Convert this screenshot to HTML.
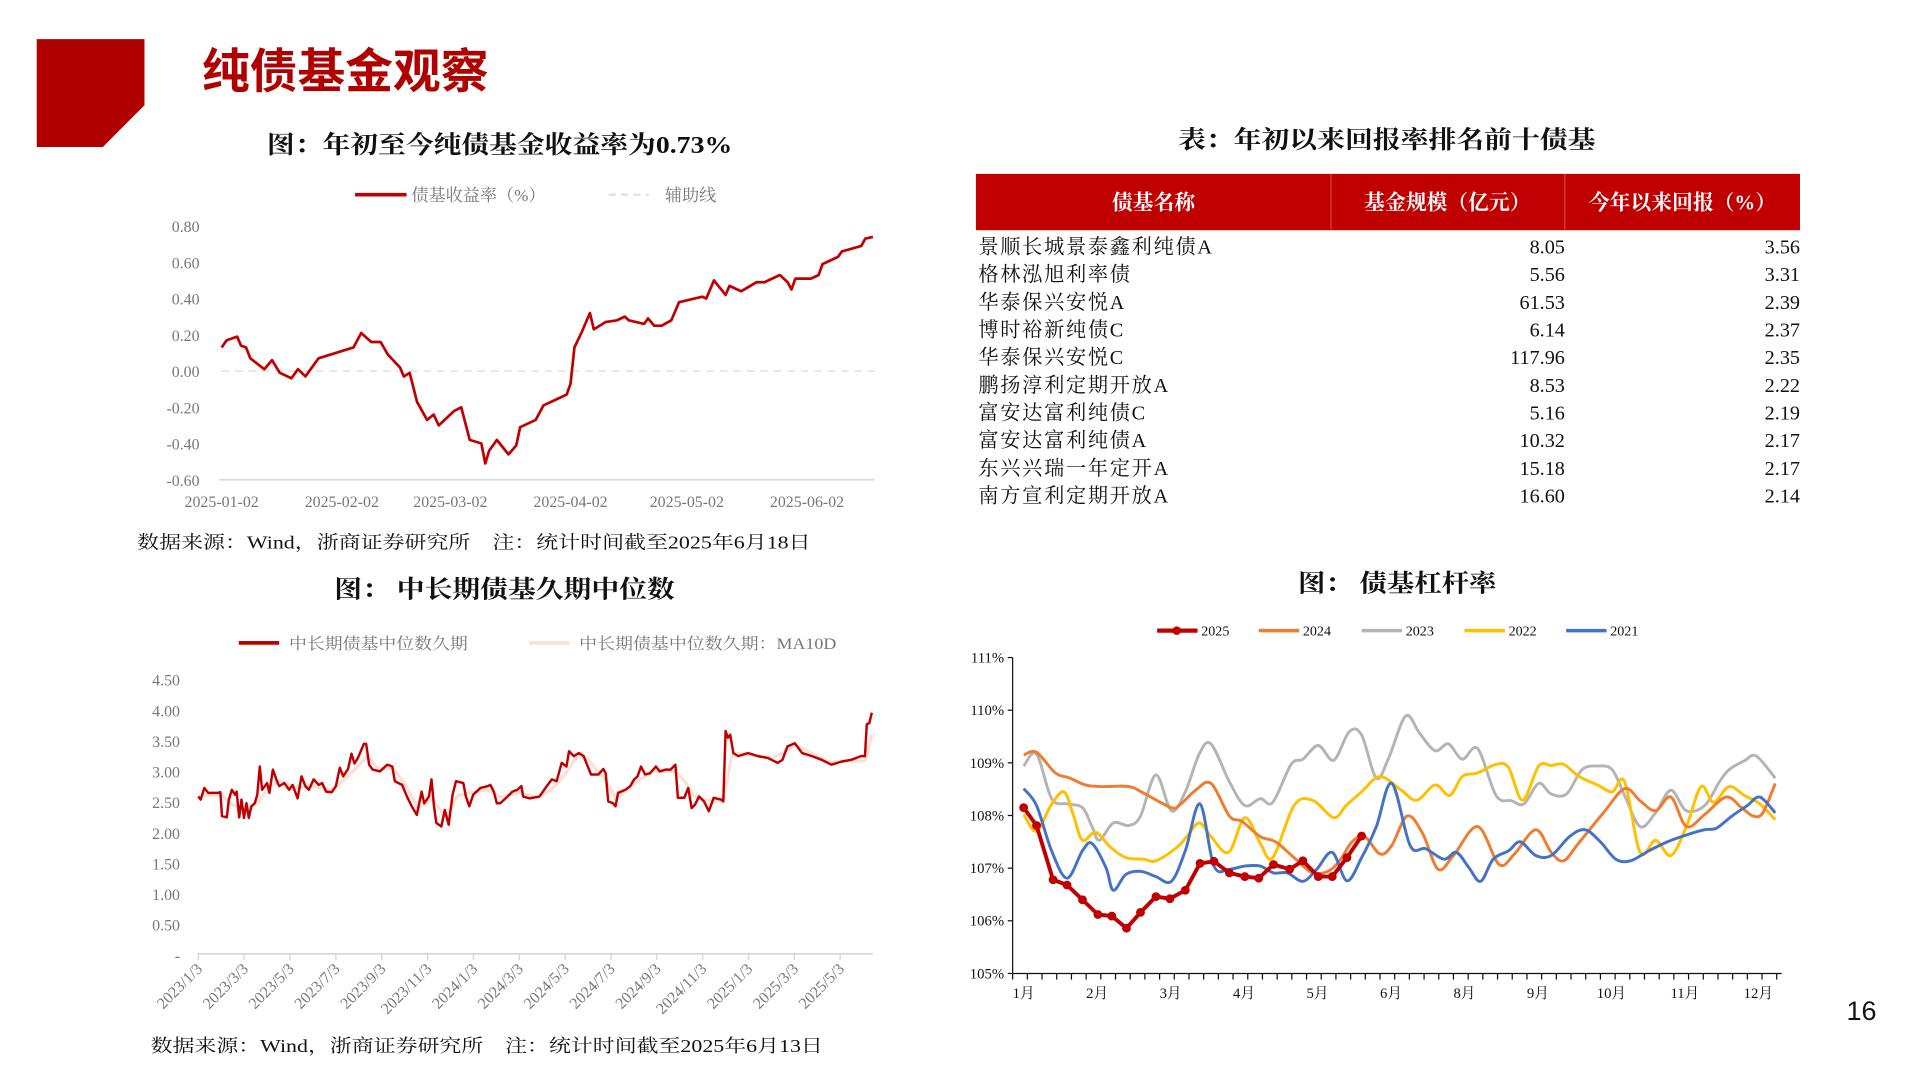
<!DOCTYPE html>
<html lang="zh">
<head>
<meta charset="utf-8">
<title>纯债基金观察</title>
<style>
html,body{margin:0;padding:0;background:#fff;}
svg{display:block;}
.serif{font-family:"Liberation Serif","Noto Serif CJK SC",serif;}
.sans{font-family:"Liberation Sans","Noto Sans CJK SC",sans-serif;}
</style>
</head>
<body>
<svg id="root" width="1920" height="1080" viewBox="0 0 1568 882" xmlns="http://www.w3.org/2000/svg">
  <rect x="0" y="0" width="1568" height="882" fill="#fff"/>
  <polygon points="30,32 118,32 118,86 84,120 30,120" fill="#b00000"/>
  <text x="165" y="72" font-size="39" font-weight="bold" fill="#b00000" class="sans">纯债基金观察</text>

  <text x="218" y="125" font-size="20" font-weight="bold" fill="#111" class="serif" textLength="380" lengthAdjust="spacingAndGlyphs">图：年初至今纯债基金收益率为0.73%</text>
  <g>
    <line x1="290" y1="159" x2="332" y2="159" stroke="#c00000" stroke-width="3"/>
    <text x="336" y="164" font-size="14" fill="#777" class="serif">债基收益率（%）</text>
    <line x1="497" y1="159" x2="530" y2="159" stroke="#e3e3e3" stroke-width="2" stroke-dasharray="6,4"/>
    <text x="543" y="164" font-size="14" fill="#777" class="serif">辅助线</text>
  </g>
  <g id="c1"></g>
  <text x="112" y="448" font-size="15" fill="#111" class="serif" textLength="550" lengthAdjust="spacingAndGlyphs">数据来源：Wind，浙商证券研究所　注：统计时间截至2025年6月18日</text>

  <text x="273" y="488" font-size="20" font-weight="bold" fill="#111" class="serif" textLength="278" lengthAdjust="spacingAndGlyphs">图：  中长期债基久期中位数</text>
  <g>
    <line x1="195" y1="525" x2="228" y2="525" stroke="#c00000" stroke-width="3"/>
    <text x="236" y="530" font-size="13" fill="#777" class="serif" textLength="146" lengthAdjust="spacingAndGlyphs">中长期债基中位数久期</text>
    <line x1="432" y1="525" x2="465" y2="525" stroke="#fbe0d3" stroke-width="3"/>
    <text x="473" y="530" font-size="13" fill="#777" class="serif" textLength="210" lengthAdjust="spacingAndGlyphs">中长期债基中位数久期：MA10D</text>
  </g>
  <g id="c2"></g>
  <text x="123" y="859" font-size="15" fill="#111" class="serif" textLength="549" lengthAdjust="spacingAndGlyphs">数据来源：Wind，浙商证券研究所　注：统计时间截至2025年6月13日</text>

  <text x="962" y="121" font-size="20" font-weight="bold" fill="#111" class="serif" textLength="341" lengthAdjust="spacingAndGlyphs">表：年初以来回报率排名前十债基</text>
  <g id="tbl"></g>

  <text x="1060" y="483" font-size="20" font-weight="bold" fill="#111" class="serif" textLength="162" lengthAdjust="spacingAndGlyphs">图：  债基杠杆率</text>
  <g id="c3"></g>

  <text x="1508" y="833" font-size="22" fill="#111" class="sans">16</text>
</svg>
<script>
// ---------- Chart 1 data ----------
const c1Days = [0,1.3,4,5,6.3,7.4,11,13,15,18,19.7,21.6,25,34,36,38.6,41,42.9,46,47,48.5,50.4,53,54.7,56,60,61.8,64,67,68,69,71,74,76,77,81,83,86,89,90,91,93,95,96,99,102,104,105,109,110,111.6,113.5,116,118,124,125,127,130,131,134,138,140,144,146,147,148,152,154,155,159,160,165,166,168];
const c1Values = [0.13,0.17,0.19,0.14,0.13,0.07,0.01,0.06,-0.01,-0.04,0.01,-0.03,0.07,0.13,0.21,0.16,0.16,0.09,0.02,-0.03,-0.01,-0.17,-0.27,-0.24,-0.30,-0.22,-0.20,-0.38,-0.40,-0.51,-0.44,-0.38,-0.46,-0.41,-0.31,-0.27,-0.19,-0.16,-0.13,-0.07,0.13,0.22,0.32,0.23,0.27,0.28,0.30,0.28,0.26,0.29,0.25,0.25,0.28,0.38,0.41,0.40,0.50,0.42,0.47,0.44,0.49,0.49,0.53,0.49,0.45,0.51,0.51,0.53,0.59,0.63,0.66,0.69,0.73,0.74];
const c1YTicks = [0.8,0.6,0.4,0.2,0,-0.2,-0.4,-0.6];
const c1YLabels = ['0.80','0.60','0.40','0.20','0.00','-0.20','-0.40','-0.60'];
const c1XTickDays = [0,31,59,90,120,151];
const c1XLabels = ['2025-01-02','2025-02-02','2025-03-02','2025-04-02','2025-05-02','2025-06-02'];

// ---------- Chart 2 data ----------
const c2Months = [0,0.1,0.26,0.43,0.86,0.96,1.03,1.24,1.33,1.46,1.6,1.67,1.78,1.88,1.99,2.1,2.2,2.31,2.46,2.57,2.68,2.78,3.0,3.1,3.25,3.43,3.53,3.75,3.96,4.11,4.33,4.5,4.67,4.82,5.03,5.25,5.4,5.57,5.82,6.0,6.17,6.32,6.53,6.68,6.81,6.96,7.22,7.32,7.45,7.6,7.92,8.24,8.46,8.57,8.89,9.1,9.31,9.53,9.74,9.85,10.06,10.17,10.28,10.38,10.6,10.75,10.92,11.09,11.24,11.56,11.67,11.82,11.99,12.31,12.63,12.74,12.89,13.02,13.17,13.49,13.7,13.92,14.09,14.17,14.45,14.88,15.2,15.42,15.63,15.85,16.06,16.17,16.38,16.6,16.81,17.02,17.13,17.45,17.67,17.77,17.88,18.09,18.2,18.31,18.63,18.84,19.01,19.16,19.31,19.49,19.7,19.96,20.13,20.39,20.6,20.81,20.92,21.2,21.37,21.52,21.67,21.84,22.06,22.27,22.48,22.8,22.9,23.0,23.1,23.2,23.34,23.55,23.98,24.41,24.84,25.27,25.48,25.7,26.02,26.34,26.77,27.19,27.62,28.05,28.48,28.91,29.08,29.16,29.27,29.38];
const c2Duration = [2.59,2.54,2.73,2.65,2.65,2.66,2.27,2.25,2.54,2.70,2.62,2.67,2.25,2.54,2.24,2.48,2.24,2.43,2.48,2.62,3.08,2.70,2.81,2.65,3.03,2.84,2.76,2.81,2.70,2.78,2.56,2.92,2.76,2.70,2.87,2.78,2.81,2.67,2.66,2.76,3.06,2.92,3.04,3.29,3.13,3.22,3.45,3.45,3.11,3.03,3.00,3.11,3.08,2.84,2.78,2.59,2.43,2.29,2.67,2.48,2.59,2.87,2.43,2.16,2.10,2.37,2.13,2.62,2.84,2.81,2.59,2.43,2.62,2.73,2.76,2.78,2.67,2.48,2.48,2.59,2.67,2.70,2.76,2.59,2.56,2.59,2.76,2.87,2.84,3.14,3.08,3.33,3.25,3.30,3.25,3.05,2.95,2.95,3.04,2.97,2.51,2.48,2.43,2.65,2.70,2.76,2.87,2.92,3.08,2.95,2.97,3.08,3.00,3.03,3.03,3.11,2.57,2.57,2.73,2.40,2.46,2.59,2.51,2.35,2.57,2.54,2.51,3.66,3.55,3.60,3.30,3.25,3.30,3.25,3.22,3.14,3.19,3.41,3.46,3.30,3.25,3.19,3.11,3.16,3.19,3.25,3.25,3.77,3.79,3.96];
const c2MaMonths = [0,1,1.5,2.2,2.6,3.0,3.5,4.2,5,5.8,6.3,7,7.4,7.8,8.5,9.0,9.6,10.2,10.8,11.3,11.8,12.6,13.2,14,14.8,15.4,16,16.5,17,17.4,17.8,18.2,19,19.8,20.8,21.2,21.6,22.5,22.9,23.3,24,25,25.5,26,26.5,27.5,28.5,29.1,29.38];
const c2MaValues = [2.60,2.62,2.45,2.40,2.50,2.70,2.85,2.75,2.75,2.70,2.85,3.10,3.25,3.05,3.05,2.80,2.40,2.55,2.25,2.60,2.65,2.70,2.58,2.65,2.58,2.70,2.95,3.25,3.20,3.00,2.85,2.55,2.80,3.00,3.00,2.85,2.60,2.50,2.55,3.30,3.28,3.22,3.30,3.43,3.35,3.15,3.17,3.18,3.60];
const c2YTicks = [4.5,4,3.5,3,2.5,2,1.5,1,0.5,0];
const c2YLabels = ['4.50','4.00','3.50','3.00','2.50','2.00','1.50','1.00','0.50','-'];
const c2XTickMonths = [0,2,4,6,8,10,12,14,16,18,20,22,24,26,28];
const c2XLabels = ['2023/1/3','2023/3/3','2023/5/3','2023/7/3','2023/9/3','2023/11/3','2024/1/3','2024/3/3','2024/5/3','2024/7/3','2024/9/3','2024/11/3','2025/1/3','2025/3/3','2025/5/3'];

// ---------- Chart 3 data ----------
const c3X2025 = [0,0.175,0.4,0.59,0.8,1.01,1.2,1.4,1.59,1.8,1.99,2.2,2.4,2.59,2.8,3.01,3.2,3.4,3.62,3.8,4.01,4.2,4.4,4.6];
const c3Y2025 = [108.15,107.81,106.78,106.68,106.40,106.12,106.09,105.86,106.16,106.46,106.42,106.58,107.09,107.13,106.91,106.84,106.81,107.07,106.98,107.14,106.84,106.84,107.20,107.61];
const c3X2024 = [0,0.175,0.43,0.63,0.84,1.05,1.43,1.64,2.01,2.14,2.34,2.55,2.8,2.97,3.22,3.43,3.68,3.93,4.14,4.3,4.47,4.64,4.85,5.01,5.22,5.43,5.64,5.85,6.18,6.47,6.68,6.97,7.18,7.35,7.55,7.89,8.18,8.39,8.6,8.81,9.02,9.27,9.56,9.77,9.93,10.06,10.23];
const c3Y2024 = [109.15,109.2,108.81,108.71,108.58,108.55,108.55,108.42,108.15,108.22,108.48,108.61,107.99,107.89,107.6,107.5,107.2,106.91,106.94,107.14,107.5,107.6,107.27,107.43,107.99,107.66,106.98,107.24,107.79,107.07,107.27,107.73,107.3,107.14,107.47,108.05,108.51,108.28,108.09,108.35,107.79,108.02,108.35,108.15,107.99,108.05,108.61];
const c3X2023 = [0,0.175,0.38,0.59,0.8,0.93,1.03,1.22,1.43,1.59,1.8,2.01,2.2,2.39,2.55,2.8,3.01,3.22,3.39,3.64,3.8,4.01,4.22,4.43,4.6,4.8,4.97,5.2,5.39,5.6,5.78,5.97,6.18,6.43,6.64,6.81,7.01,7.18,7.39,7.6,7.81,8.01,8.18,8.39,8.6,8.81,9.02,9.27,9.47,9.6,9.81,9.97,10.23];
const c3Y2023 = [108.94,109.17,108.32,108.22,108.15,107.79,107.53,107.86,107.81,107.99,108.77,108.09,108.45,109.17,109.36,108.64,108.19,108.32,108.25,108.97,109.07,109.33,109.05,109.59,109.53,108.71,109.1,109.89,109.56,109.23,109.36,109.07,109.27,108.38,108.28,108.22,108.61,108.41,108.41,108.87,108.94,108.87,108.38,107.79,108.05,108.48,108.09,108.19,108.64,108.87,109.04,109.13,108.71];
const c3X2022 = [0,0.175,0.37,0.55,0.68,0.8,0.98,1.18,1.39,1.63,1.8,2.09,2.22,2.39,2.55,2.79,3.01,3.22,3.39,3.68,3.93,4.22,4.39,4.6,4.85,5.14,5.35,5.6,5.8,5.97,6.18,6.43,6.6,6.79,7.01,7.18,7.35,7.56,7.81,8.01,8.18,8.39,8.6,8.81,9.02,9.22,9.39,9.6,9.81,10.02,10.23];
const c3Y2022 = [108.02,107.7,108.19,108.45,107.99,107.53,107.68,107.4,107.2,107.17,107.14,107.4,107.6,107.86,107.6,107.3,107.96,107.47,107.2,108.19,108.29,107.96,108.19,108.45,108.74,108.48,108.29,108.58,108.38,108.74,108.81,108.97,108.91,108.29,108.94,108.95,108.97,108.74,108.58,108.45,108.64,107.3,107.53,107.24,107.79,108.55,108.25,108.55,108.38,108.22,107.92];
const c3X2021 = [0,0.175,0.38,0.59,0.8,0.93,1.12,1.22,1.39,1.59,1.8,2.01,2.2,2.4,2.59,2.8,3.01,3.22,3.4,3.59,3.8,3.99,4.2,4.4,4.6,4.8,5.01,5.26,5.47,5.72,5.89,6.06,6.22,6.39,6.6,6.76,6.97,7.18,7.43,7.64,7.85,8.06,8.26,8.51,8.76,9.02,9.27,9.43,9.64,9.85,10.02,10.23];
const c3Y2021 = [108.51,108.19,107.33,106.81,107.33,107.47,107.01,106.58,106.88,106.94,106.84,106.75,107.33,108.22,107.04,106.98,107.04,107.04,106.91,106.91,106.75,106.98,107.3,106.76,107.2,107.79,108.61,107.43,107.37,107.17,107.3,107.01,106.75,107.17,107.33,107.5,107.24,107.24,107.6,107.73,107.5,107.17,107.14,107.33,107.5,107.63,107.73,107.76,107.99,108.19,108.35,108.05];
const c3YTicks = [111,110,109,108,107,106,105];
const c3YLabels = ['111%','110%','109%','108%','107%','106%','105%'];
const c3MonthPos = [0,1,2,3,4,5,6,7,8,9,10];
const c3MonthLabels = ['1月','2月','3月','4月','5月','6月','8月','9月','10月','11月','12月'];

// ---------- Table data ----------
const tblHeaders = ['债基名称','基金规模（亿元）','今年以来回报（%）'];
const tblNames = ['景顺长城景泰鑫利纯债A','格林泓旭利率债','华泰保兴安悦A','博时裕新纯债C','华泰保兴安悦C','鹏扬淳利定期开放A','富安达富利纯债C','富安达富利纯债A','东兴兴瑞一年定开A','南方宣利定期开放A'];
const tblSizes = ['8.05','5.56','61.53','6.14','117.96','8.53','5.16','10.32','15.18','16.60'];
const tblReturns = ['3.56','3.31','2.39','2.37','2.35','2.22','2.19','2.17','2.17','2.14'];

const NS = 'http://www.w3.org/2000/svg';
function mk(tag, attrs, parent) {
  const e = document.createElementNS(NS, tag);
  for (const k in attrs) e.setAttribute(k, attrs[k]);
  parent.appendChild(e);
  return e;
}
function linePath(xs, ys) {
  return xs.map((x, i) => (i ? 'L' : 'M') + x.toFixed(2) + ',' + ys[i].toFixed(2)).join(' ');
}
function smoothPath(xs, ys) {
  let d = 'M' + xs[0].toFixed(2) + ',' + ys[0].toFixed(2);
  for (let i = 0; i < xs.length - 1; i++) {
    const x0 = xs[Math.max(0, i - 1)], y0 = ys[Math.max(0, i - 1)];
    const x1 = xs[i], y1 = ys[i], x2 = xs[i + 1], y2 = ys[i + 1];
    const x3 = xs[Math.min(xs.length - 1, i + 2)], y3 = ys[Math.min(xs.length - 1, i + 2)];
    const t = 1 / 6;
    d += ' C' + (x1 + (x2 - x0) * t).toFixed(2) + ',' + (y1 + (y2 - y0) * t).toFixed(2) + ' ' +
      (x2 - (x3 - x1) * t).toFixed(2) + ',' + (y2 - (y3 - y1) * t).toFixed(2) + ' ' + x2.toFixed(2) + ',' + y2.toFixed(2);
  }
  return d;
}
const SERIF = '"Liberation Serif","Noto Serif CJK SC",serif';

// ===== Chart 1 =====
(function () {
  const g = document.getElementById('c1');
  const x = d => 181 + d * 3.166;
  const y = v => 303 - v * 148;
  c1YTicks.forEach((v, i) => {
    const t = mk('text', {x: 163, y: y(v) + 5, 'font-size': 13, fill: '#777', 'text-anchor': 'end', 'font-family': SERIF}, g);
    t.textContent = c1YLabels[i];
    
    
  });
  const base = mk('line', {x1: 179, x2: 714, y1: y(-0.6), y2: y(-0.6), stroke: '#d9d9d9', 'stroke-width': 1.5}, g);
  
  
  const aux = mk('line', {x1: 181, x2: 714, y1: y(0), y2: y(0), stroke: '#e6e6e6', 'stroke-width': 1.5, 'stroke-dasharray': '6,5'}, g);
  
  
  c1XTickDays.forEach((d, i) => {
    const t = mk('text', {x: x(d), y: 414, 'font-size': 13, fill: '#777', 'text-anchor': 'middle', 'font-family': SERIF}, g);
    t.textContent = c1XLabels[i];
    
    
  });
  const p = mk('path', {d: linePath(c1Days.map(x), c1Values.map(y)), fill: 'none', stroke: '#c00000', 'stroke-width': 2.2, 'stroke-linejoin': 'round'}, g);
  
  
})();

// ===== Chart 2 =====
(function () {
  const g = document.getElementById('c2');
  const x = m => 162 + m * 18.72;
  const y = v => 780 - v * 50;
  c2YTicks.forEach((v, i) => {
    const t = mk('text', {x: 147, y: y(v) + 5, 'font-size': 13, fill: '#777', 'text-anchor': 'end', 'font-family': SERIF}, g);
    t.textContent = c2YLabels[i];
    
    
  });
  const ax = mk('line', {x1: 161, x2: 713, y1: 779, y2: 779, stroke: '#d9d9d9', 'stroke-width': 1.5}, g);
  
  
  c2XTickMonths.forEach((m, i) => {
    const tk = mk('line', {x1: x(m), x2: x(m), y1: 779, y2: 784, stroke: '#d9d9d9', 'stroke-width': 1.2}, g);
    
    
    const t = mk('text', {x: x(m) + 4, y: 792, 'font-size': 13, fill: '#777', 'text-anchor': 'end', 'font-family': SERIF, transform: 'rotate(-45 ' + (x(m) + 4) + ' 792)'}, g);
    t.textContent = c2XLabels[i];
    
    
  });
  const ma = mk('path', {d: linePath(c2MaMonths.map(x), c2MaValues.map(y)), fill: 'none', stroke: '#fbe0d3', 'stroke-width': 2.6, 'stroke-linejoin': 'round'}, g);
  
  
  const p = mk('path', {d: linePath(c2Months.map(x), c2Duration.map(y)), fill: 'none', stroke: '#c00000', 'stroke-width': 2, 'stroke-linejoin': 'round'}, g);
  
  
})();

// ===== Table =====
(function () {
  const g = document.getElementById('tbl');
  const hdr = mk('rect', {x: 797, y: 142, width: 673, height: 46, fill: '#c00000'}, g);
  
  
  [1087, 1278].forEach(cx => {
    const l = mk('line', {x1: cx, x2: cx, y1: 142, y2: 188, stroke: '#d84040', 'stroke-width': 1}, g);
    
    
  });
  const hx = [942, 1182, 1374];
  tblHeaders.forEach((h, i) => {
    const t = mk('text', {x: hx[i], y: 171, 'font-size': 17, fill: '#fff', 'font-weight': 'bold', 'text-anchor': 'middle', 'font-family': SERIF}, g);
    t.textContent = h;
    
    
  });
  tblNames.forEach((n, i) => {
    const yy = 207 + i * 22.6;
    const a = mk('text', {x: 799, y: yy, 'font-size': 16.5, fill: '#111', 'font-family': SERIF, 'letter-spacing': 1.4}, g);
    a.textContent = n;
    
    
    const b = mk('text', {x: 1278, y: yy, 'font-size': 16.5, fill: '#111', 'text-anchor': 'end', 'font-family': SERIF}, g);
    b.textContent = tblSizes[i];
    
    
    const c = mk('text', {x: 1470, y: yy, 'font-size': 16.5, fill: '#111', 'text-anchor': 'end', 'font-family': SERIF}, g);
    c.textContent = tblReturns[i];
    
    
  });
})();

// ===== Chart 3 =====
(function () {
  const g = document.getElementById('c3');
  const x = p => 836 + p * 60;
  const y = v => 795 - (v - 105) * 43;
  const legend = [['2025', '#c00000'], ['2024', '#ed7d31'], ['2023', '#b4b4b4'], ['2022', '#ffc000'], ['2021', '#4472c4']];
  const lx = [945, 1028, 1112, 1196, 1279];
  legend.forEach((L, i) => {
    const ln = mk('line', {x1: lx[i], x2: lx[i] + 33, y1: 515, y2: 515, stroke: L[1], 'stroke-width': i === 0 ? 3.5 : 2.8}, g);
    
    
    if (i === 0) {
      const dot = mk('circle', {cx: lx[i] + 16, cy: 515, r: 3.5, fill: L[1]}, g);
      
      
    }
    const t = mk('text', {x: lx[i] + 36, y: 519, 'font-size': 11.5, fill: '#111', 'font-family': SERIF}, g);
    t.textContent = L[0];
    
    
  });
  const ya = mk('line', {x1: 827, x2: 827, y1: 537, y2: 795, stroke: '#111', 'stroke-width': 1}, g);
  
  
  const xa = mk('line', {x1: 827, x2: 1455, y1: 795, y2: 795, stroke: '#111', 'stroke-width': 1}, g);
  
  
  c3YTicks.forEach((v, i) => {
    const tk = mk('line', {x1: 823, x2: 827, y1: y(v), y2: y(v), stroke: '#111', 'stroke-width': 1}, g);
    
    
    const t = mk('text', {x: 820, y: y(v) + 4, 'font-size': 12, fill: '#111', 'text-anchor': 'end', 'font-family': SERIF}, g);
    t.textContent = c3YLabels[i];
    
    
  });
  for (let p = -0.15; p <= 10.33; p += 0.2) {
    const tk = mk('line', {x1: x(p), x2: x(p), y1: 795, y2: 800, stroke: '#111', 'stroke-width': 1}, g);
    
    
  }
  c3MonthPos.forEach((p, i) => {
    const t = mk('text', {x: x(p), y: 815, 'font-size': 12, fill: '#111', 'text-anchor': 'middle', 'font-family': SERIF}, g);
    t.textContent = c3MonthLabels[i];
    
    
  });
  const series = [
    ['2023', c3X2023, c3Y2023, '#b4b4b4'],
    ['2022', c3X2022, c3Y2022, '#ffc000'],
    ['2024', c3X2024, c3Y2024, '#ed7d31'],
    ['2021', c3X2021, c3Y2021, '#4472c4']
  ];
  series.forEach(s => {
    const p = mk('path', {d: smoothPath(s[1].map(x), s[2].map(y)), fill: 'none', stroke: s[3], 'stroke-width': 2.4, 'stroke-linejoin': 'round'}, g);
    
    
  });
  const p25 = mk('path', {d: linePath(c3X2025.map(x), c3Y2025.map(y)), fill: 'none', stroke: '#c00000', 'stroke-width': 3.2, 'stroke-linejoin': 'round'}, g);
  
  
  c3X2025.forEach((p, i) => {
    const c = mk('circle', {cx: x(p), cy: y(c3Y2025[i]), r: 3.6, fill: '#c00000'}, g);
    
    
  });
})();
</script>
</body>
</html>
